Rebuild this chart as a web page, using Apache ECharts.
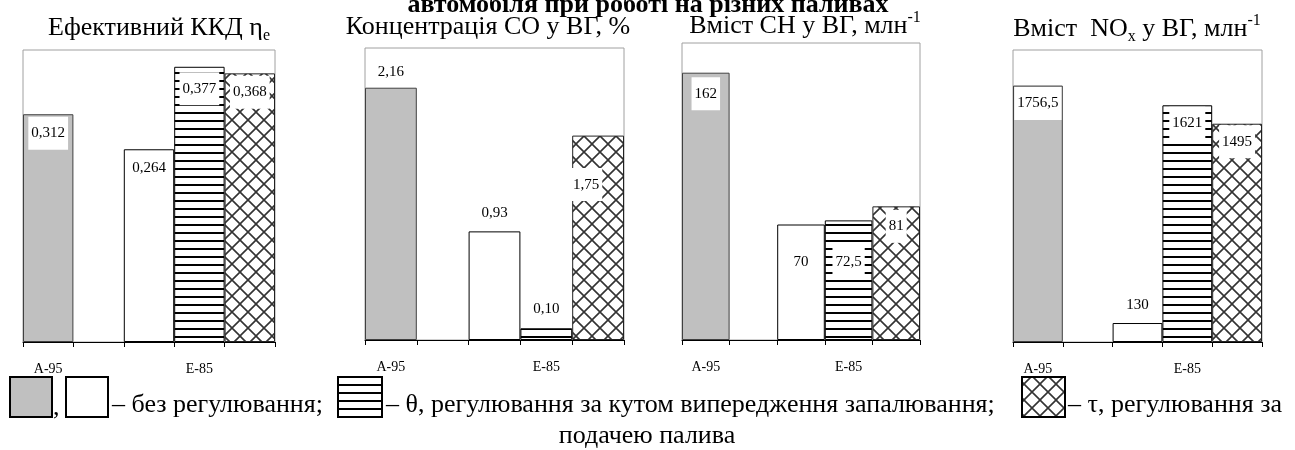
<!DOCTYPE html>
<html>
<head>
<meta charset="utf-8">
<script src="https://cdn.jsdelivr.net/npm/echarts@6/dist/echarts.min.js"></script>
<style>
  html, body { margin: 0; padding: 0; background: #fff; }
  #chart { width: 1295px; height: 450px; }
</style>
</head>
<body>
<div id="chart"></div>
<script>
// 5 slots on every x axis, A-95 under the first, E-85 under the fourth
var categories = ['A-95', '', '', 'E-85', ''];

// [A-95, E-85 без регулювання, E-85 θ, E-85 τ]
var effValues = [0.312, 0.264, 0.377, 0.368];
var coValues = [2.16, 0.93, 0.10, 1.75];
var chValues = [162, 70, 72.5, 81];
var noxValues = [1756.5, 130, 1621, 1495];

var axisMax = [0.4, 2.5, 180, 2000];
var decimals = [3, 2, null, null];

var FONT = 'Liberation Serif';

// fill patterns
function stripes() {
  var c = document.createElement('canvas');
  c.width = 8; c.height = 8;
  var g = c.getContext('2d');
  g.fillStyle = '#fff'; g.fillRect(0, 0, 8, 8);
  g.fillStyle = '#000'; g.fillRect(0, 0, 8, 2);
  return c;
}
function crosshatch() {
  var c = document.createElement('canvas');
  c.width = 16; c.height = 16;
  var g = c.getContext('2d');
  g.fillStyle = '#fff'; g.fillRect(0, 0, 16, 16);
  g.strokeStyle = '#333'; g.lineWidth = 1.6;
  g.beginPath();
  g.moveTo(-2, -2); g.lineTo(18, 18);
  g.moveTo(18, -2); g.lineTo(-2, 18);
  g.stroke();
  return c;
}
var stripeFill = { image: stripes(), repeat: 'repeat' };
var crossFill = { image: crosshatch(), repeat: 'repeat' };

var fills = ['#c0c0c0', '#ffffff', stripeFill, crossFill];
var borders = ['#404040', '#000', '#000', '#222'];
var slotOf = [0, 2, 3, 4];

var panelValues = [effValues, coValues, chValues, noxValues];
// label centre relative to bar top (px), and a few sideways nudges
var labelDy = [[19, 19, 22, 19], [-16, -18, -19, 49], [21, 38, 42, 20], [18, -18, 18, 18]];
var labelDx = [[0, 0, 0, 0], [0, 0, 0, -12], [0, 0, 0, 0], [0, 0, 0, 0]];
var gridBoxes = [
  { left: 23, top: 50, width: 252, height: 292 },
  { left: 365, top: 48, width: 259, height: 292 },
  { left: 682, top: 43, width: 238, height: 297 },
  { left: 1013, top: 50, width: 249, height: 292 }
];

var grids = [], xAxes = [], yAxes = [], series = [];

gridBoxes.forEach(function (b, p) {
  grids.push({
    left: b.left, top: b.top, width: b.width, height: b.height,
    show: true, borderColor: '#a0a0a0', borderWidth: 1,
    containLabel: false, outerBoundsMode: 'none'
  });
  xAxes.push({
    gridIndex: p, type: 'category', data: categories, boundaryGap: true,
    axisLine: { lineStyle: { color: '#000', width: 1 } },
    axisTick: { show: true, interval: 0, length: 5, lineStyle: { color: '#000' } },
    axisLabel: { interval: 0, margin: 20, fontFamily: FONT, fontSize: 14, color: '#000' }
  });
  yAxes.push({ gridIndex: p, type: 'value', min: 0, max: axisMax[p], show: false });

  panelValues[p].forEach(function (v, k) {
    var dy = labelDy[p][k];
    series.push({
      type: 'bar', xAxisIndex: p, yAxisIndex: p,
      data: categories.map(function (c, i) { return i === slotOf[k] ? v : null; }),
      barWidth: '100%', barGap: '-100%',
      itemStyle: { color: fills[k], borderColor: borders[k], borderWidth: 1 },
      label: {
        show: true,
        position: ['50%', dy],
        offset: [labelDx[p][k], 0],
        align: 'center', verticalAlign: 'middle',
        fontFamily: FONT, fontSize: 15, color: '#000',
        backgroundColor: '#fff',
        padding: dy > 0 ? [9, 3] : [1, 1],
        formatter: function (prm) {
          var d = decimals[p];
          var s = d != null ? prm.value.toFixed(d) : String(prm.value);
          return s.replace('.', ',');
        }
      }
    });
  });
});

var rich = {
  m: { fontFamily: FONT, fontSize: 26, lineHeight: 32, color: '#000' },
  s: { fontFamily: FONT, fontSize: 16, lineHeight: 16, verticalAlign: 'bottom', color: '#000' },
  u: { fontFamily: FONT, fontSize: 16, lineHeight: 22, verticalAlign: 'top', color: '#000' }
};

function title(text, x, y) {
  return {
    type: 'text', silent: true,
    style: { text: text, rich: rich, x: x, y: y, align: 'center', verticalAlign: 'middle', fill: '#000' }
  };
}
function txt(text, x, y, align, weight) {
  return {
    type: 'text', silent: true,
    style: {
      text: text, x: x, y: y, align: align || 'left', verticalAlign: 'middle',
      font: (weight || 'normal') + ' 26px "' + FONT + '"', fill: '#000'
    }
  };
}
function box(x, w, fill) {
  return {
    type: 'rect', silent: true,
    shape: { x: x, y: 377, width: w, height: 40 },
    style: { fill: fill, stroke: '#000', lineWidth: 2 }
  };
}

var graphics = [
  txt('автомобіля при роботі на різних паливах', 648, 5, 'center', 'bold'),
  title('{m|Ефективний ККД η}{s|e}', 159, 28),
  title('{m|Концентрація СО у ВГ, %}', 488, 27),
  title('{m|Вміст СН у ВГ, млн}{u|-1}', 805, 26),
  title('{m|Вміст  NO}{s|x}{m| у ВГ, млн}{u|-1}', 1137, 29),
  box(10, 42, '#c0c0c0'),
  txt(',', 53, 408),
  box(66, 42, '#fff'),
  txt('– без регулювання;', 112, 405),
  box(338, 44, stripeFill),
  txt('– θ, регулювання за кутом випередження запалювання;', 386, 405),
  box(1022, 43, crossFill),
  txt('– τ, регулювання за', 1068, 405),
  txt('подачею палива', 647, 436, 'center')
];

var chart = echarts.init(document.getElementById('chart'), null, { renderer: 'canvas' });
chart.setOption({
  animation: false,
  grid: grids,
  xAxis: xAxes,
  yAxis: yAxes,
  series: series,
  graphic: { elements: graphics }
});
</script>
</body>
</html>
